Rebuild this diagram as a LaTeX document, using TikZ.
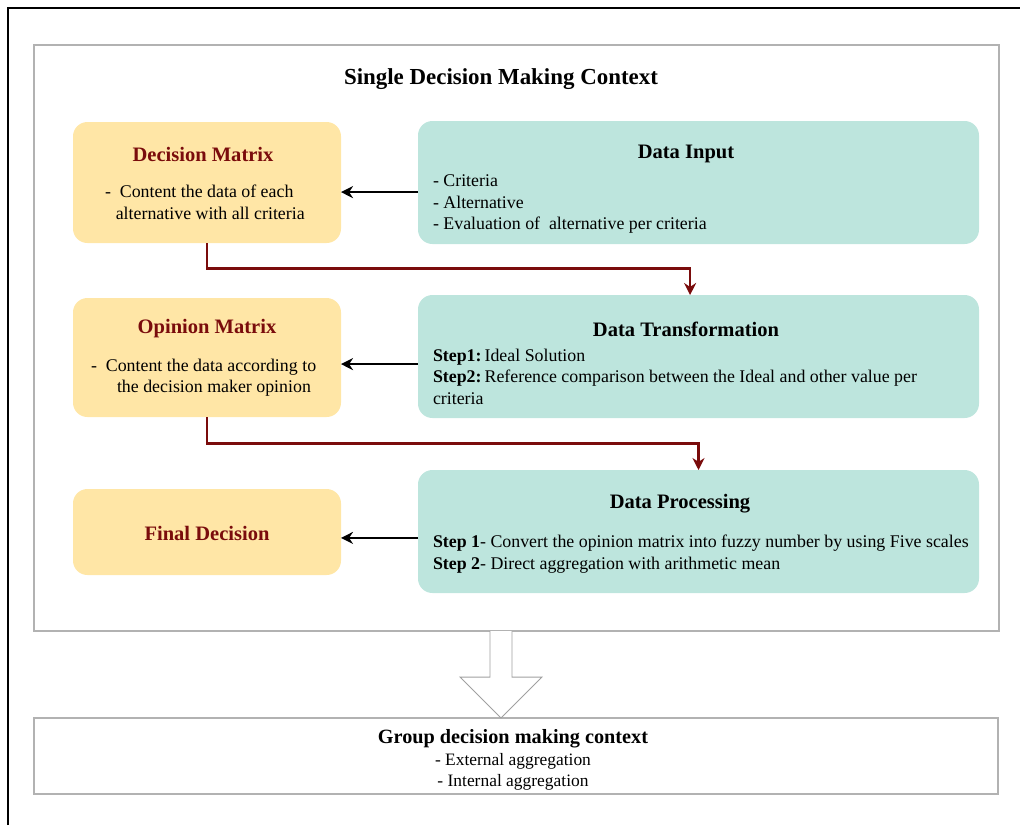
\documentclass[tikz,border=0pt]{standalone}
\usepackage{fontspec}
\setmainfont{Liberation Serif}
\usepackage{tikz}
\definecolor{softyellow}{RGB}{255,230,166}
\definecolor{softteal}{RGB}{189,229,221}
\definecolor{darkred}{RGB}{122,12,12}
\definecolor{framegray}{RGB}{178,178,178}
\usetikzlibrary{arrows.meta}
\usetikzlibrary{positioning}
\usetikzlibrary{calc}

\begin{document}
\begin{tikzpicture}[x=0.025cm, y=-0.025cm]
        \tikzset{every node/.style={inner sep=0pt, outer sep=0pt},
                >={Stealth[length=0.3cm, width=0.3cm]},
                ybox/.style={fill=softyellow, rounded corners=0.36cm, minimum width=268*0.025cm},
                tbox/.style={fill=softteal, rounded corners=0.36cm, minimum width=561*0.025cm, minimum height=123*0.025cm},
                ctxbox/.style={draw=framegray, line width=0.9pt},
                head/.style={font=\fontsize{14.6}{17.5}\selectfont\bfseries},
                yhead/.style={head, text=darkred},
                body/.style={font=\fontsize{12.7}{15.3}\selectfont, align=left, anchor=north west},
                link/.style={->, line width=1.6pt},
                flow/.style={->, draw=darkred, line width=1.6pt},
                hollow/.style={draw=framegray!90!black, fill=white, line width=0.7pt}}

        \useasboundingbox (0,0) rectangle (1020,825);
        \draw[line width=1.2pt] (8,825) -- (8,8) -- (1020,8);

        \node[ctxbox, minimum width=965*0.025cm, minimum height=586*0.025cm] (single) at (516.5,338) {};
        \node[font=\fontsize{16.3}{19.5}\selectfont\bfseries] (singleTitle) at (501,79) {Single Decision Making Context};

        \node[ybox, minimum height=121*0.025cm] (dm) at (207,182.5) {};
        \node[ybox, minimum height=119*0.025cm] (om) at (207,357.5) {};
        \node[ybox, minimum height=86*0.025cm] (fd) at (207,532) {};
        \node[tbox] (in) at (698.5,182.5) {};
        \node[tbox] (tr) at (698.5,356.5) {};
        \node[tbox] (pr) at (698.5,531.5) {};

        \node[yhead] (dmHead) at (203,154) {Decision Matrix};
        \node[body] (dmBody) at (105,185) {-\ \ Content the data of each\\\hspace*{0.27cm}alternative with all criteria};
        \node[head] (inHead) at (686,154) {Data Input};
        \node[body] (inBody) at (433,175) {- Criteria\\- Alternative\\- Evaluation of\ \ alternative per criteria};

        \node[yhead] (omHead) at (207,329) {Opinion Matrix};
        \node[body] (omBody) at (91,359) {-\ \ Content the data according to\\\hspace*{0.65cm}the decision maker opinion};
        \node[head] (trHead) at (686,329) {Data Transformation};
        \node[body] (trBody) at (433,349) {\textbf{Step1:}\,Ideal Solution\\\textbf{Step2:}\,Reference comparison between the Ideal and other value per\\criteria};

        \node[yhead] (fdHead) at (207,533) {Final Decision};
        \node[head] (prHead) at (680,504) {Data Processing};
        \node[body] (prBody) at (433,535) {\textbf{Step 1}- Convert the opinion matrix into fuzzy number by using Five scales\\\textbf{Step 2}- Direct aggregation with arithmetic mean};

        \node[ctxbox, minimum width=964*0.025cm, minimum height=76*0.025cm] (group) at (516,756) {};
        \node[font=\fontsize{12.4}{15.6}\selectfont, align=center, anchor=north] (groupText) at (513,729)
                {{\fontsize{14.4}{15.6}\selectfont\bfseries Group decision making context}\\- External aggregation\\- Internal aggregation};

        \draw[link] ([yshift=-0.24cm]in.west) coordinate (inOut) -- (dm.east |- inOut);
        \draw[link] ([yshift=-0.19cm]tr.west) coordinate (trOut) -- (om.east |- trOut);
        \draw[link] ([yshift=-0.16cm]pr.west) coordinate (prOut) -- (fd.east |- prOut);

        \draw[flow] (dm.south) -- ++(0,25.5) -| ([xshift=-0.21cm]tr.north);
        \draw[flow] (om.south) -- ++(0,26.5) -| (pr.north);

        \coordinate (tip) at ([xshift=-0.375cm]group.north);
        \draw[hollow] ($(single.south -| tip)+(-11,0)$) -- ++(0,46) -- ++(-30,0) -- (tip)
                -- ++(41,-41) -- ++(-30,0) -- ($(single.south -| tip)+(11,0)$);

\end{tikzpicture}
\end{document}
